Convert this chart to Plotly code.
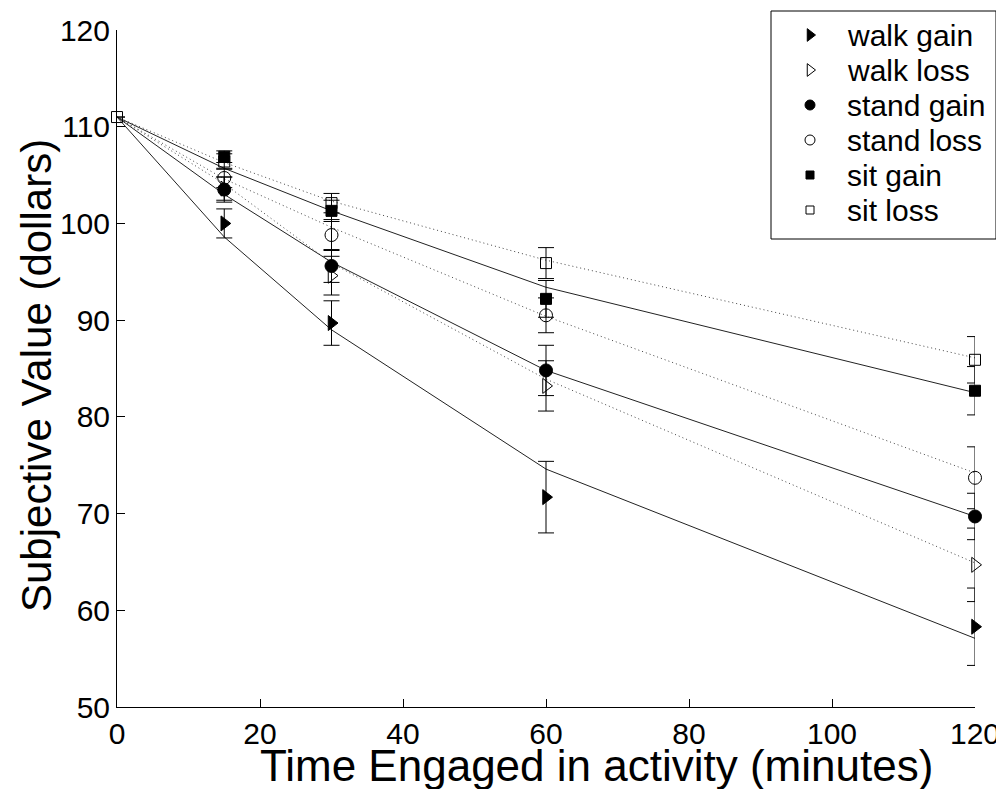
import plotly.graph_objects as go

# ---- data ----
minutes = [0, 15, 30, 60, 120]

series_names = ["walk gain", "walk loss", "stand gain", "stand loss", "sit gain", "sit loss"]

# only one marker is visible at time 0 (the common starting value)
walk_gain = [None, 100.0, 89.7, 71.7, 58.3]
walk_loss = [None, 103.6, 94.6, 83.2, 64.7]
stand_gain = [None, 103.5, 95.6, 84.8, 69.7]
stand_loss = [None, 104.7, 98.8, 90.5, 73.7]
sit_gain = [None, 106.9, 101.3, 92.2, 82.7]
sit_loss = [111.0, 106.4, 102.1, 95.9, 85.9]

walk_gain_err = [None, 1.5, 2.3, 3.7, 4.0]
walk_loss_err = [None, 1.2, 2.0, 2.6, 3.8]
stand_gain_err = [None, 1.3, 1.7, 2.6, 2.4]
stand_loss_err = [None, 1.0, 1.6, 1.8, 3.2]
sit_gain_err = [None, 0.6, 1.1, 1.9, 2.5]
sit_loss_err = [None, 0.8, 1.0, 1.6, 2.4]

walk_gain_fit = [111.0, 98.6, 89.0, 74.6, 57.1]
walk_loss_fit = [111.0, 104.1, 95.9, 83.9, 64.9]
stand_gain_fit = [111.0, 103.0, 96.0, 84.8, 69.7]
stand_loss_fit = [111.0, 104.6, 99.6, 90.4, 74.2]
sit_gain_fit = [111.0, 105.7, 101.3, 93.4, 82.5]
sit_loss_fit = [111.0, 106.3, 102.3, 96.2, 86.1]

x_ticks = [0, 20, 40, 60, 80, 100, 120]
y_ticks = [50, 60, 70, 80, 90, 100, 110, 120]

x_title = "Time Engaged in activity (minutes)"
y_title = "Subjective Value (dollars)"

values = [walk_gain, walk_loss, stand_gain, stand_loss, sit_gain, sit_loss]
errors = [walk_gain_err, walk_loss_err, stand_gain_err, stand_loss_err, sit_gain_err, sit_loss_err]
fits = [walk_gain_fit, walk_loss_fit, stand_gain_fit, stand_loss_fit, sit_gain_fit, sit_loss_fit]

# ---- styles ----
symbols = ["triangle-right", "triangle-right-open", "circle", "circle-open", "square", "square-open"]
sizes = [13, 13, 13, 13, 11, 11]
legend_sizes = [11, 11, 10, 10, 8, 8]
fit_dash = ["solid", "1px,3px", "solid", "1px,3px", "solid", "1px,3px"]
fit_color = ["#222222", "#444444", "#222222", "#444444", "#222222", "#444444"]

FONT = "Liberation Sans, Arial, sans-serif"

# page has an 8px body margin; plot area should sit at x 117..975, y 30..707 on the page
W, H = 996, 781
ML, MT = 109, 22
PW, PH = 858, 677


def px_x(px):
    return (px - 117) / PW


def px_y(py):
    return (707 - py) / PH


fig = go.Figure()

for i, name in enumerate(series_names):
    fig.add_trace(go.Scatter(
        x=minutes, y=fits[i], mode="lines",
        line=dict(color=fit_color[i], width=1, dash=fit_dash[i]),
        showlegend=False, hoverinfo="skip", cliponaxis=False,
    ))

for i, name in enumerate(series_names):
    fig.add_trace(go.Scatter(
        x=minutes, y=values[i], mode="markers", name=name,
        marker=dict(symbol=symbols[i], size=sizes[i], color="black",
                    line=dict(color="black", width=1)),
        error_y=dict(type="data", array=errors[i], visible=True,
                     color="black", thickness=1, width=8),
        cliponaxis=False, showlegend=False,
    ))

# ---- legend drawn in a page-pixel coordinate system (overlay axes) ----
leg_left, leg_right, leg_top, leg_bottom = 771, 996, 11, 239
leg_marker_x, leg_text_x = 810, 845
leg_row_y = [35 + 35 * k for k in range(len(series_names))]

fig.add_shape(
    type="rect", xref="paper", yref="paper",
    x0=px_x(leg_left), x1=px_x(leg_right),
    y0=px_y(leg_bottom), y1=px_y(leg_top),
    line=dict(color="black", width=1), fillcolor="rgba(0,0,0,0)", layer="above",
)

for i, name in enumerate(series_names):
    fig.add_trace(go.Scatter(
        x=[leg_marker_x], y=[leg_row_y[i]], mode="markers",
        xaxis="x2", yaxis="y2",
        marker=dict(symbol=symbols[i], size=legend_sizes[i], color="black",
                    line=dict(color="black", width=1)),
        showlegend=False, hoverinfo="skip", cliponaxis=False,
    ))
    fig.add_annotation(
        x=leg_text_x, y=leg_row_y[i], xref="x2", yref="y2",
        text=name, showarrow=False, xanchor="left", yanchor="middle",
        font=dict(family=FONT, size=30, color="black"),
    )

# axis titles (placed where the reference has them)
fig.add_annotation(
    x=px_x(596), y=px_y(765), xref="paper", yref="paper",
    text=x_title, showarrow=False, xanchor="center", yanchor="middle",
    font=dict(family=FONT, size=44, color="black"),
)
fig.add_annotation(
    x=px_x(36), y=px_y(376), xref="paper", yref="paper",
    text=y_title, showarrow=False, xanchor="center", yanchor="middle",
    textangle=-90, font=dict(family=FONT, size=42, color="black"),
)

fig.update_layout(
    width=W, height=H,
    paper_bgcolor="white", plot_bgcolor="white",
    margin=dict(l=ML, r=W - ML - PW, t=MT, b=H - MT - PH),
    font=dict(family=FONT, size=30, color="black"),
    showlegend=False,
    xaxis=dict(range=[0, 120], tickvals=x_ticks, ticks="inside", ticklen=8,
               tickcolor="black", showline=True, linecolor="black", linewidth=1,
               showgrid=False, zeroline=False, mirror=False, automargin=False,
               ticklabeloverflow="allow",
               tickfont=dict(family=FONT, size=30)),
    yaxis=dict(range=[50, 120], tickvals=y_ticks, ticks="inside", ticklen=8,
               tickcolor="black", showline=True, linecolor="black", linewidth=1,
               showgrid=False, zeroline=False, mirror=False, automargin=False,
               ticklabeloverflow="allow",
               tickfont=dict(family=FONT, size=30)),
    xaxis2=dict(overlaying="x", range=[117, 975], visible=False, fixedrange=True),
    yaxis2=dict(overlaying="y", range=[707, 30], visible=False, fixedrange=True),
)

fig.write_html("out.html")
